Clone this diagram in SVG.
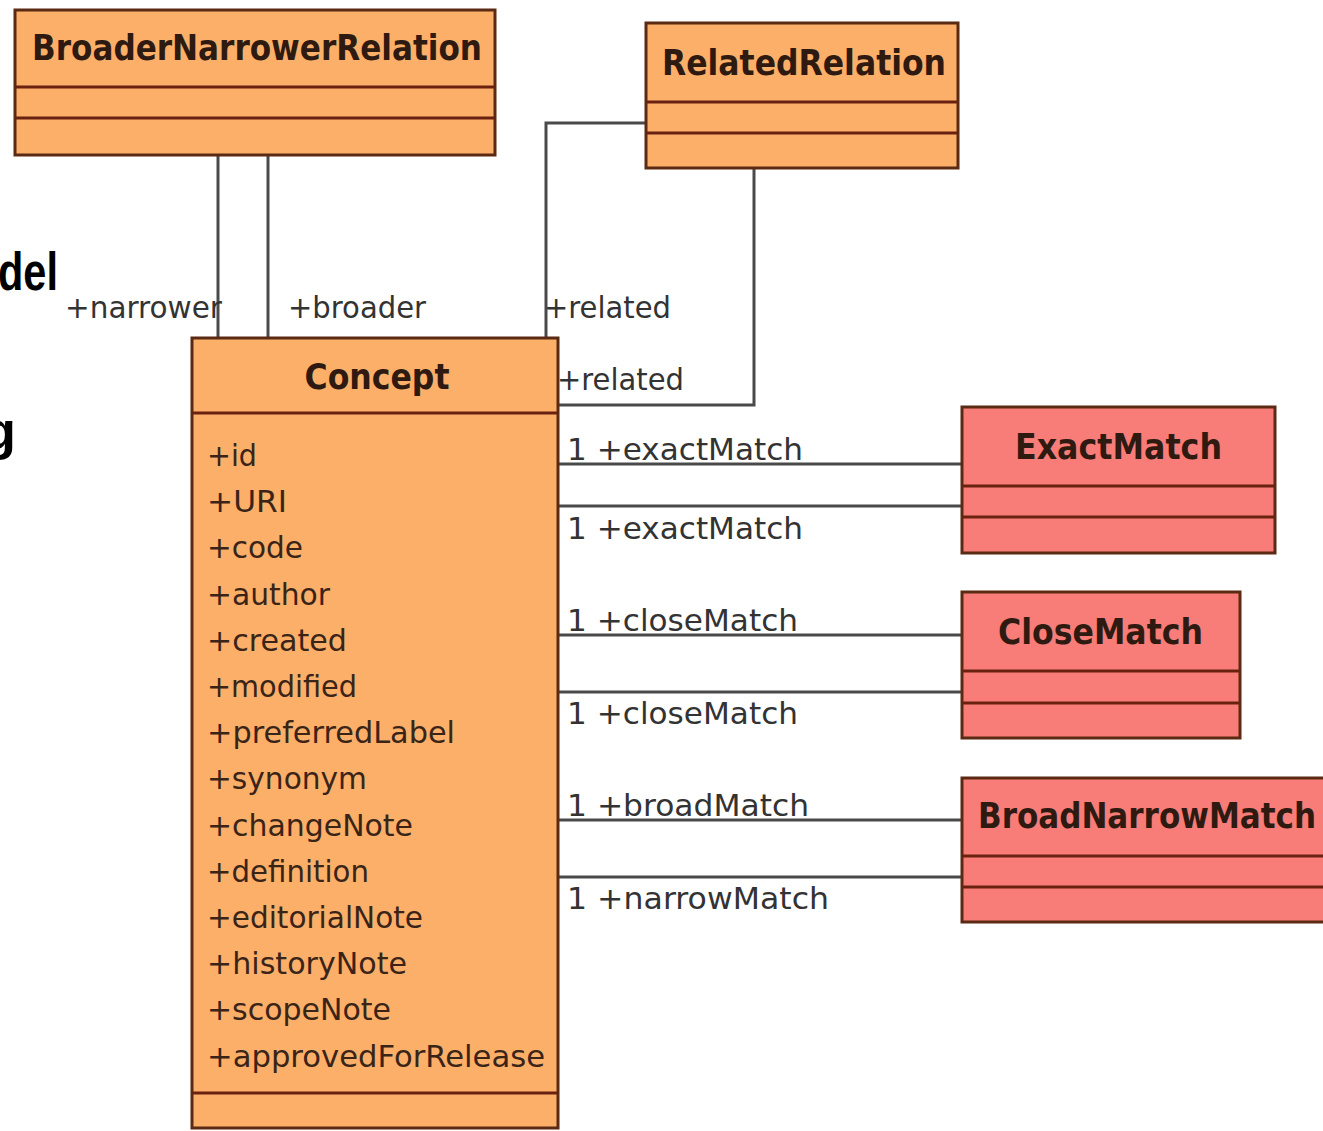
<svg xmlns="http://www.w3.org/2000/svg" width="1323" height="1131" viewBox="0 0 1323 1131">
  <style>
    .cls { fill: #FBAF68; stroke: #5A2A12; stroke-width: 3; }
    .map { fill: #F87C78; stroke: #5A2A12; stroke-width: 3; }
    .div { stroke: #6A2210; stroke-width: 3; fill: none; }
    .title { font-family: "DejaVu Sans", "Liberation Sans", sans-serif; font-weight: bold; font-size: 35px; fill: #2E1A10; }
    .attr { font-family: "DejaVu Sans", "Liberation Sans", sans-serif; font-size: 31px; fill: #3A2418; }
    .role { font-family: "DejaVu Sans", "Liberation Sans", sans-serif; font-size: 31px; fill: #333; }
    .link { stroke: #4A4A4A; stroke-width: 3; fill: none; }
    .side { font-family: "Liberation Sans", Arial, sans-serif; font-weight: bold; font-size: 54px; fill: #000; }
  </style>

  <rect width="1323" height="1131" fill="#FFFFFF"/>

  <!-- fragments of the slide heading on the left -->
  <text class="side" x="58" y="290" text-anchor="end" textLength="60" lengthAdjust="spacingAndGlyphs">del</text>
  <text class="side" x="16" y="449" text-anchor="end">g</text>

  <!-- associations -->
  <g id="connectors">
    <line class="link" x1="218" y1="155" x2="218" y2="338"/>
    <line class="link" x1="268" y1="155" x2="268" y2="338"/>
    <polyline class="link" points="646,123 546,123 546,338"/>
    <polyline class="link" points="754,168 754,405 558,405"/>
    <line class="link" x1="558" y1="464" x2="962" y2="464"/>
    <line class="link" x1="558" y1="506" x2="962" y2="506"/>
    <line class="link" x1="558" y1="635" x2="962" y2="635"/>
    <line class="link" x1="558" y1="692" x2="962" y2="692"/>
    <line class="link" x1="558" y1="820" x2="962" y2="820"/>
    <line class="link" x1="558" y1="877" x2="962" y2="877"/>

    <text class="role" x="65" y="318" textLength="157" lengthAdjust="spacingAndGlyphs">+narrower</text>
    <text class="role" x="288" y="318" textLength="138" lengthAdjust="spacingAndGlyphs">+broader</text>
    <text class="role" x="544" y="318" textLength="127" lengthAdjust="spacingAndGlyphs">+related</text>
    <text class="role" x="557" y="390" textLength="127" lengthAdjust="spacingAndGlyphs">+related</text>
    <text class="role" x="567" y="460" textLength="236" lengthAdjust="spacingAndGlyphs">1  +exactMatch</text>
    <text class="role" x="567" y="539" textLength="236" lengthAdjust="spacingAndGlyphs">1  +exactMatch</text>
    <text class="role" x="567" y="631" textLength="231" lengthAdjust="spacingAndGlyphs">1  +closeMatch</text>
    <text class="role" x="567" y="724" textLength="231" lengthAdjust="spacingAndGlyphs">1  +closeMatch</text>
    <text class="role" x="567" y="816" textLength="242" lengthAdjust="spacingAndGlyphs">1  +broadMatch</text>
    <text class="role" x="567" y="909" textLength="262" lengthAdjust="spacingAndGlyphs">1  +narrowMatch</text>
  </g>

  <g id="BroaderNarrowerRelation">
    <rect class="cls" x="15" y="10" width="480" height="145"/>
    <line class="div" x1="15" y1="87" x2="495" y2="87"/>
    <line class="div" x1="15" y1="118" x2="495" y2="118"/>
    <text class="title" x="32" y="60" textLength="450" lengthAdjust="spacingAndGlyphs">BroaderNarrowerRelation</text>
  </g>

  <g id="RelatedRelation">
    <rect class="cls" x="646" y="23" width="312" height="145"/>
    <line class="div" x1="646" y1="102" x2="958" y2="102"/>
    <line class="div" x1="646" y1="133" x2="958" y2="133"/>
    <text class="title" x="662" y="75" textLength="284" lengthAdjust="spacingAndGlyphs">RelatedRelation</text>
  </g>

  <g id="Concept">
    <rect class="cls" x="192" y="338" width="366" height="790"/>
    <line class="div" x1="192" y1="413" x2="558" y2="413"/>
    <line class="div" x1="192" y1="1093" x2="558" y2="1093"/>
    <text class="title" x="377" y="389" text-anchor="middle" textLength="145" lengthAdjust="spacingAndGlyphs">Concept</text>
    <text class="attr" x="207" y="466" textLength="50" lengthAdjust="spacingAndGlyphs">+id</text>
    <text class="attr" x="207" y="512" textLength="80" lengthAdjust="spacingAndGlyphs">+URI</text>
    <text class="attr" x="207" y="558" textLength="96" lengthAdjust="spacingAndGlyphs">+code</text>
    <text class="attr" x="207" y="605" textLength="123" lengthAdjust="spacingAndGlyphs">+author</text>
    <text class="attr" x="207" y="651" textLength="140" lengthAdjust="spacingAndGlyphs">+created</text>
    <text class="attr" x="207" y="697" textLength="150" lengthAdjust="spacingAndGlyphs">+modified</text>
    <text class="attr" x="207" y="743" textLength="248" lengthAdjust="spacingAndGlyphs">+preferredLabel</text>
    <text class="attr" x="207" y="789" textLength="160" lengthAdjust="spacingAndGlyphs">+synonym</text>
    <text class="attr" x="207" y="836" textLength="206" lengthAdjust="spacingAndGlyphs">+changeNote</text>
    <text class="attr" x="207" y="882" textLength="162" lengthAdjust="spacingAndGlyphs">+definition</text>
    <text class="attr" x="207" y="928" textLength="216" lengthAdjust="spacingAndGlyphs">+editorialNote</text>
    <text class="attr" x="207" y="974" textLength="200" lengthAdjust="spacingAndGlyphs">+historyNote</text>
    <text class="attr" x="207" y="1020" textLength="184" lengthAdjust="spacingAndGlyphs">+scopeNote</text>
    <text class="attr" x="207" y="1067" textLength="338" lengthAdjust="spacingAndGlyphs">+approvedForRelease</text>
  </g>

  <g id="ExactMatch">
    <rect class="map" x="962" y="407" width="313" height="146"/>
    <line class="div" x1="962" y1="486" x2="1275" y2="486"/>
    <line class="div" x1="962" y1="517" x2="1275" y2="517"/>
    <text class="title" x="1015" y="459" textLength="207" lengthAdjust="spacingAndGlyphs">ExactMatch</text>
  </g>

  <g id="CloseMatch">
    <rect class="map" x="962" y="592" width="278" height="146"/>
    <line class="div" x1="962" y1="671" x2="1240" y2="671"/>
    <line class="div" x1="962" y1="703" x2="1240" y2="703"/>
    <text class="title" x="998" y="644" textLength="205" lengthAdjust="spacingAndGlyphs">CloseMatch</text>
  </g>

  <g id="BroadNarrowMatch">
    <rect class="map" x="962" y="778" width="370" height="144"/>
    <line class="div" x1="962" y1="856" x2="1332" y2="856"/>
    <line class="div" x1="962" y1="887" x2="1332" y2="887"/>
    <text class="title" x="978" y="828" textLength="338" lengthAdjust="spacingAndGlyphs">BroadNarrowMatch</text>
  </g>
</svg>
